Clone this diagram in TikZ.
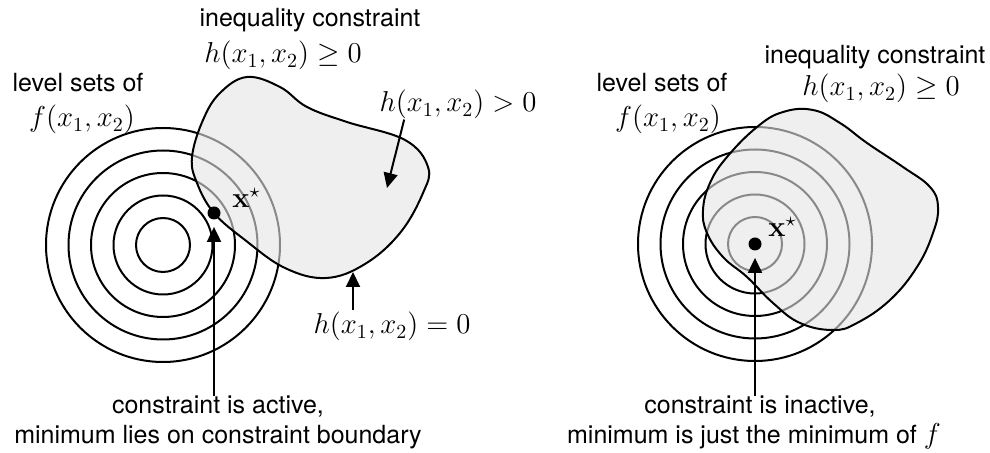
\documentclass[tikz,border=0pt,12pt]{standalone}
\usepackage[no-math]{fontspec}
\setmainfont{TeX Gyre Heros}
\usepackage{amsmath, amssymb}
\usetikzlibrary{arrows.meta,positioning}

\newcommand{\levelsets}[2]{
  \foreach \r in {27,49.5,72,94.5,117}
    \draw[level] (#1,#2) circle[radius=\r];
}

\begin{document}
\begin{tikzpicture}[x=0.5pt,y=-0.5pt]

\tikzset{
  level/.style={black, line width=1pt},
  region/.style={draw=black, line width=1pt, fill=black!10, fill opacity=0.6},
  txt/.style={anchor=base, inner sep=0pt, font=\fontsize{12.5pt}{15pt}\selectfont},
  mathtxt/.style={anchor=base, inner sep=0pt, font=\large},
  dot/.style={circle, fill=black, inner sep=0pt, minimum size=6.5pt},
  arr/.style={line width=1pt, -{Triangle[length=7.5pt,width=7pt]}}
}

\useasboundingbox (0,0) rectangle (990,453);

% Left: active constraint
\levelsets{163}{245}
\draw[region] plot[smooth cycle, tension=0.65] coordinates {
  (247,77) (280,87) (307,107) (347,122) (405,140) (428,167) (423,193)
  (400,233) (365,264) (326,278) (285,268) (245,240)
  (214,213) (197,183) (192,157) (203,120) (220,93)};
\coordinate (insideL) at (387,188);
\coordinate (bndL) at (353,272);
\node[dot] (dotL) at (214,213) {};
\node[mathtxt, anchor=base west] (xstarL) at (232,208) {$\mathbf{x}^\star$};

\node[txt] (ineqL) at (310,27) {inequality constraint};
\node[mathtxt] (hgeqL) at (283,63) {$h(x_1,x_2) \geq 0$};
\node[txt] (levelL) at (78,92) {level sets of};
\node[mathtxt] (fL) at (82,127) {$f(x_1,x_2)$};
\node[mathtxt] (hgtL) at (458,112) {$h(x_1,x_2) > 0$};
\node[mathtxt] (hzL) at (392,334) {$h(x_1,x_2) = 0$};
\node[txt] (activeL) at (218,414) {constraint is active,};
\node[txt] (boundL) at (218,444) {minimum lies on constraint boundary};

\draw[arr, shorten >=3.5pt] (activeL.north -| dotL) -- (dotL);
\draw[arr] ([xshift=12.5pt]hgtL.south west) -- (insideL);
\draw[arr, shorten <=1pt] (hzL.north -| bndL) -- (bndL);

% Right: inactive constraint
\levelsets{755}{244}
\draw[region] plot[smooth cycle, tension=0.7] coordinates {
  (783,112) (813,110) (840,123) (867,143) (903,167) (930,187) (938,207)
  (933,233) (917,267) (890,300) (857,323) (833,330) (800,323) (773,303)
  (747,277) (723,257) (707,233) (703,210) (710,183) (727,157) (757,127)};
\node[dot] (dotR) at (755,244) {};
\node[mathtxt, anchor=base west] (xstarR) at (768,237) {$\mathbf{x}^\star$};

\node[txt] (ineqR) at (875,64) {inequality constraint};
\node[mathtxt] (hgeqR) at (881,96) {$h(x_1,x_2) \geq 0$};
\node[txt] (levelR) at (662,92) {level sets of};
\node[mathtxt] (fR) at (668,127) {$f(x_1,x_2)$};
\node[txt] (inactiveR) at (760,414) {constraint is inactive,};
\node[txt] (minR) at (754,444) {minimum is just the minimum of {\large$f$}};

\draw[arr, shorten >=3.5pt] (inactiveR.north -| dotR) -- (dotR);

\end{tikzpicture}
\end{document}
